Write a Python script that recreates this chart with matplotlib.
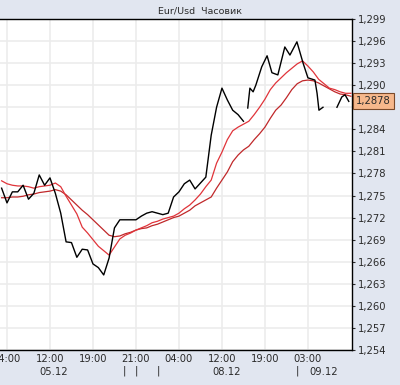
"""Eur/Usd hourly chart with two moving averages, redrawn from a screenshot."""

import matplotlib

matplotlib.use("Agg")
import matplotlib.pyplot as plt
import matplotlib.transforms as mtransforms
import numpy as np

# bar index (hours) for the close line; NaN marks a break in the line
CLOSE_T = list(range(-1, 45)) + [np.nan] + [
    44.8, 45.2, 45.8, 46.3, 47.4, 48.4, 49.3, 50.4, 51.7, 52.65, 53.95,
    55.1, 56.0, 57.3, 57.7, 58.05, 58.8,
] + [np.nan] + [61.4, 62.3, 62.9, 63.6]

CLOSE = [
    1.2760, 1.2740, 1.2755, 1.2755, 1.2764, 1.2745, 1.2753, 1.2778, 1.2764, 1.2774,
    1.2753, 1.2726, 1.2687, 1.2686, 1.2666, 1.2677, 1.2676, 1.2657, 1.2652, 1.2642,
    1.2665, 1.2706, 1.2717, 1.2717, 1.2717, 1.2717, 1.2722, 1.2726, 1.2728, 1.2726,
    1.2724, 1.2726, 1.2748, 1.2755, 1.2766, 1.2771, 1.2759, 1.2767, 1.2775, 1.2832,
    1.2870, 1.2896, 1.2880, 1.2866, 1.2860, 1.2851,
] + [np.nan] + [
    1.2869, 1.2896, 1.2891, 1.2900, 1.2925, 1.2940, 1.2917, 1.2914, 1.2952, 1.2941,
    1.2959, 1.2930, 1.2910, 1.2907, 1.2889, 1.2866, 1.2870,
] + [np.nan] + [1.2870, 1.2884, 1.2887, 1.2878]

MA_T = list(range(-1, 65))
MA_FAST = [
    1.2770, 1.2766, 1.2764, 1.2763, 1.2763, 1.2762, 1.2760, 1.2762, 1.2763, 1.2764,
    1.2767, 1.2762, 1.2749, 1.2737, 1.2725, 1.2707, 1.2699, 1.2690, 1.2681, 1.2675,
    1.2669, 1.2680, 1.2691, 1.2696, 1.2699, 1.2703, 1.2706, 1.2709, 1.2713, 1.2715,
    1.2718, 1.2720, 1.2722, 1.2726, 1.2732, 1.2737, 1.2744, 1.2752, 1.2762, 1.2771,
    1.2794, 1.2809, 1.2826, 1.2838, 1.2843, 1.2847, 1.2851, 1.2860, 1.2870, 1.2881,
    1.2894, 1.2903, 1.2910, 1.2917, 1.2923, 1.2929, 1.2933, 1.2926, 1.2918, 1.2908,
    1.2902, 1.2896, 1.2894, 1.2891, 1.2889, 1.2889,
]
MA_SLOW = [
    1.2747, 1.2747, 1.2748, 1.2748, 1.2749, 1.2751, 1.2752, 1.2754, 1.2755, 1.2756,
    1.2758, 1.2756, 1.2751, 1.2744, 1.2737, 1.2730, 1.2724, 1.2717, 1.2710, 1.2703,
    1.2696, 1.2694, 1.2695, 1.2698, 1.2700, 1.2703, 1.2705, 1.2706, 1.2709, 1.2711,
    1.2714, 1.2717, 1.2720, 1.2722, 1.2726, 1.2730, 1.2736, 1.2740, 1.2744, 1.2748,
    1.2760, 1.2771, 1.2782, 1.2796, 1.2805, 1.2812, 1.2817, 1.2826, 1.2834, 1.2843,
    1.2855, 1.2866, 1.2873, 1.2883, 1.2894, 1.2902, 1.2906, 1.2907, 1.2906, 1.2903,
    1.2899, 1.2895, 1.2891, 1.2888, 1.2887, 1.2885,
]

LAST = 1.2878
TITLE = "Eur/Usd  Часовик"
HOUR_TICKS = [0, 8, 16, 24, 32, 40, 48, 56]
HOUR_LABELS = ["04:00", "12:00", "19:00", "21:00", "04:00", "12:00", "19:00", "03:00"]
DATE_POS = [8.6, 40.9, 59.0]
DATE_LABELS = ["05.12", "08.12", "09.12"]
MARK_POS = [21.8, 24.0, 28.1, 54.0]
Y_TICKS = np.round(np.arange(1.254, 1.2995, 0.003), 3)

BG = "#e1e6f0"
TXT = "#2b2b2b"


def main() -> None:
    fig = plt.figure(figsize=(4.0, 3.85), dpi=100, facecolor=BG)
    ax = fig.add_axes([0.0, 0.091, 0.88, 0.8596])
    ax.set_facecolor("white")

    ax.plot(MA_T, MA_SLOW, color="#c0282a", lw=0.9, zorder=3)
    ax.plot(MA_T, MA_FAST, color="#e0343a", lw=0.9, zorder=3)
    ax.plot(CLOSE_T, CLOSE, color="black", lw=1.0, zorder=4)

    ax.set_xlim(-1.3, 64.2)
    ax.set_ylim(1.254, 1.299)

    ax.set_xticks(HOUR_TICKS)
    ax.set_xticklabels(HOUR_LABELS)
    ax.set_yticks(Y_TICKS)
    ax.set_yticklabels([
        "" if abs(v - 1.287) < 1e-6 else f"{v:.3f}".replace(".", ",") for v in Y_TICKS
    ])
    ax.yaxis.tick_right()
    ax.tick_params(axis="y", length=2, pad=2, labelsize=7.2, colors=TXT)
    ax.tick_params(axis="x", length=0, pad=3, labelsize=7.2, colors=TXT)
    ax.grid(True, color="#ececec", lw=1.2, zorder=0)
    ax.set_axisbelow(True)

    for side in ("top", "right", "bottom"):
        ax.spines[side].set_color("black")
        ax.spines[side].set_linewidth(1.0)
    ax.spines["left"].set_visible(False)

    # second row of the x axis: dates and day markers
    tr = mtransforms.blended_transform_factory(ax.transData, fig.transFigure)
    for x, lab in zip(DATE_POS, DATE_LABELS):
        fig.text(x, 0.034, lab, transform=tr, ha="center", va="center",
                 fontsize=7.2, color=TXT)
    for x in MARK_POS:
        fig.text(x, 0.036, "|", transform=tr, ha="center", va="center",
                 fontsize=7.2, color=TXT)

    # last price box on the right axis
    ytr = mtransforms.blended_transform_factory(ax.transAxes, ax.transData)
    ax.text(1.012, LAST, f"{LAST:.4f}".replace(".", ","), transform=ytr,
            ha="left", va="center", fontsize=7.2, color=TXT, clip_on=False, zorder=6,
            bbox=dict(boxstyle="square,pad=0.3", fc="#f6b88c", ec="#7a4a2a", lw=0.8))

    fig.text(0.5, 0.971, TITLE, ha="center", va="center", fontsize=6.8, color=TXT)

    fig.savefig("out.png", dpi=100, facecolor=BG)


if __name__ == "__main__":
    main()
